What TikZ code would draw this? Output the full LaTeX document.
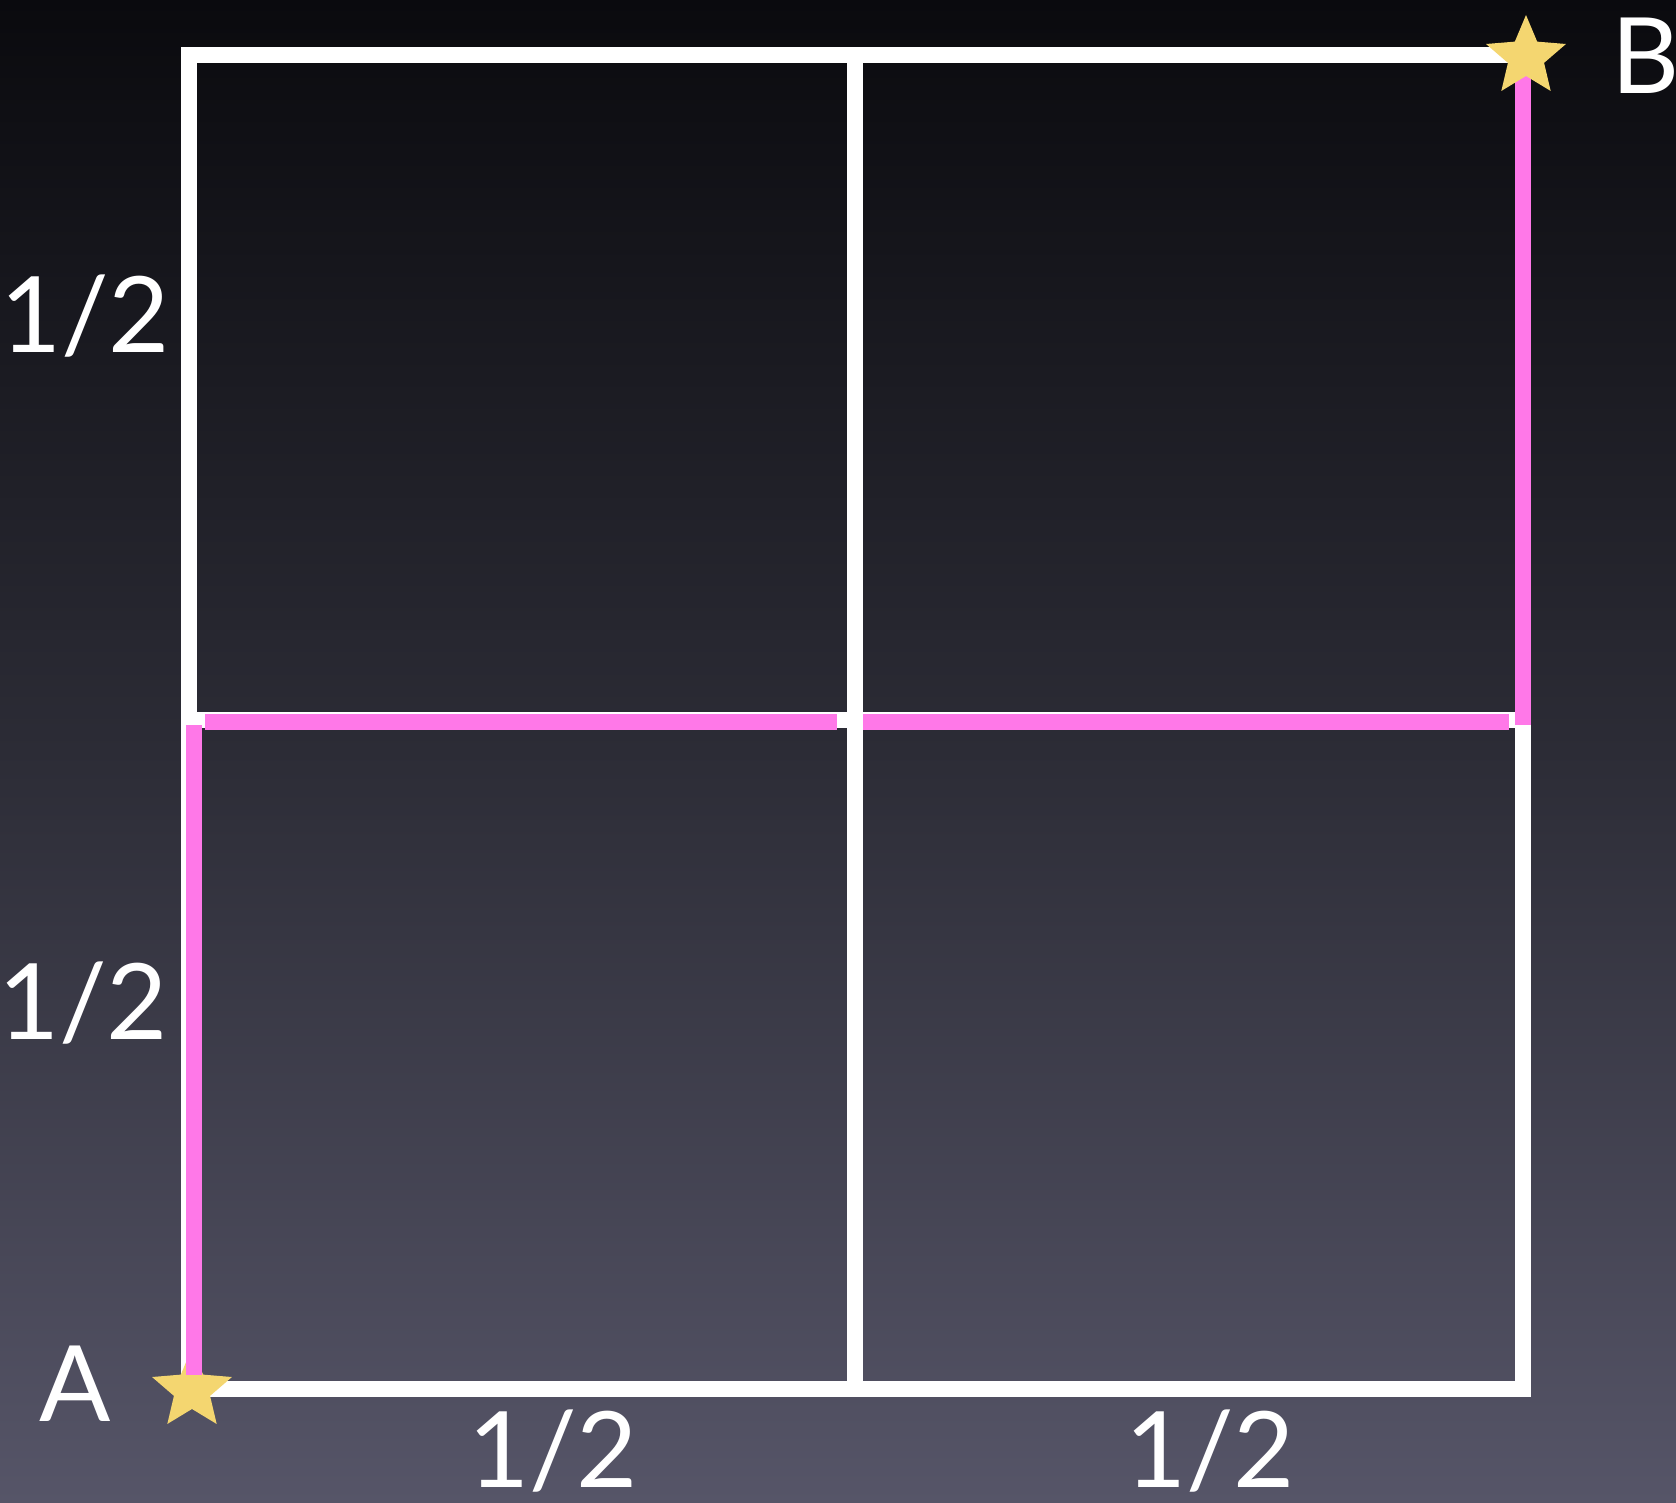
\documentclass[tikz,border=0pt]{standalone}
\usepackage{fontspec}
\setmainfont{Lato}
\usetikzlibrary{shapes.geometric, positioning}
\definecolor{bgtop}{RGB}{10, 10, 14}
\definecolor{bgmid}{RGB}{44, 44, 54}
\definecolor{bgbot}{RGB}{86, 85, 104}
\definecolor{pathpink}{RGB}{255, 120, 232}
\definecolor{staryellow}{RGB}{244, 214, 112}
\tikzset{
  gridline/.style  = {line width=4.6pt, white},
  pinkpath/.style  = {line width=4.6pt, pathpink},
  marker/.style    = {fill=staryellow, draw=none},
  lbl/.style       = {text=white, font=\fontsize{30}{36}\selectfont, inner sep=0pt},
}
% etoile a cinq branches autour d'un point nomme
\newcommand{\starmark}[1]{%
  \fill[marker] (#1) +(90:0.42) -- +(126:0.19) -- +(162:0.42) -- +(198:0.19)
    -- +(234:0.42) -- +(270:0.19) -- +(306:0.42) -- +(342:0.19)
    -- +(18:0.42) -- +(54:0.19) -- cycle;}
\begin{document}
\begin{tikzpicture}
  \useasboundingbox (0,0) rectangle (16.76,15.03);

  % fond en degrade
  \shade[top color=bgtop, bottom color=bgbot, middle color=bgmid] (0,0) rectangle (16.76,15.03);

  % sommets de la grille
  \coordinate (sw) at (1.89,1.14);
  \coordinate (se) at (15.23,1.14);
  \coordinate (nw) at (1.89,14.48);
  \coordinate (ne) at (15.23,14.48);
  \coordinate (ms) at (8.55,1.14);
  \coordinate (mn) at (8.55,14.48);
  \coordinate (mw) at (1.89,7.83);
  \coordinate (me) at (15.23,7.83);

  % grille blanche
  \draw[gridline, line cap=rect] (sw) rectangle (ne);
  \draw[gridline] (ms) -- (mn);
  \draw[gridline] (mw) -- (me);

  % point A (sous le chemin)
  \coordinate (starA) at (1.92,1.13);
  \starmark{starA}

  % chemin rose
  \coordinate (p1) at (1.94,1.28);
  \coordinate (p2) at (1.94,7.78);
  \coordinate (p3) at (2.05,7.81);
  \coordinate (p4) at (8.37,7.81);
  \coordinate (p5) at (8.63,7.81);
  \coordinate (p6) at (15.09,7.81);
  \coordinate (p7) at (15.23,7.78);
  \coordinate (p8) at (15.23,14.29);
  \draw[pinkpath] (p1) -- (p2);
  \draw[pinkpath] (p3) -- (p4);
  \draw[pinkpath] (p5) -- (p6);
  \draw[pinkpath] (p7) -- (p8);

  % point B (sur le chemin)
  \coordinate (starB) at (15.26,14.46);
  \starmark{starB}

  % etiquettes
  \node[lbl] (labA) at (0.75,1.19) {A};
  \node[lbl] (labB) at (16.46,14.47) {B};
  \node[lbl] (halfN) at (0.85,11.87) {1/2};
  \node[lbl] (halfS) at (0.83,5.00) {1/2};
  \node[lbl] (halfW) at (5.53,0.52) {1/2};
  \node[lbl] (halfE) at (12.10,0.52) {1/2};

\end{tikzpicture}
\end{document}
